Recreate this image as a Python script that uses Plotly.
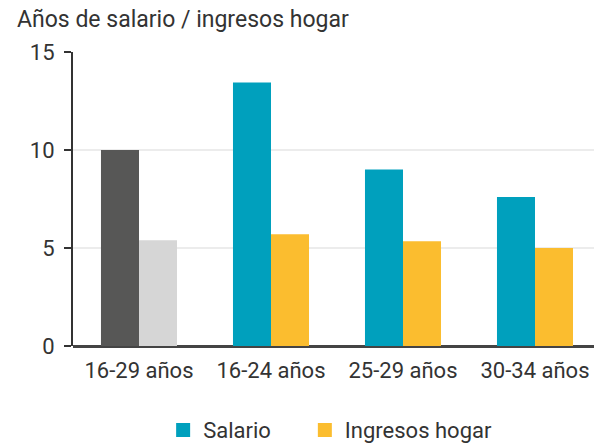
import plotly.graph_objects as go

categories = ["16-29 años", "16-24 años", "25-29 años", "30-34 años"]
salario = [10.0, 13.45, 9.0, 7.6]
ingresos = [5.4, 5.7, 5.35, 5.0]
salario_colors = ["#575756", "#00a0bd", "#00a0bd", "#00a0bd"]
ingresos_colors = ["#d6d6d6", "#fbbd2f", "#fbbd2f", "#fbbd2f"]
legend_names = ["Salario", "Ingresos hogar"]
legend_colors = ["#00a0bd", "#fbbd2f"]
y_ticks = [0, 5, 10, 15]

FONT = "Roboto"

fig = go.Figure()
fig.add_trace(go.Bar(x=categories, y=salario, name="Salario", showlegend=False,
                     marker=dict(color=salario_colors, line=dict(width=0))))
fig.add_trace(go.Bar(x=categories, y=ingresos, name="Ingresos hogar", showlegend=False,
                     marker=dict(color=ingresos_colors, line=dict(width=0))))
for i, (n, c) in enumerate(zip(legend_names, legend_colors)):
    fig.add_trace(go.Scatter(x=[None], y=[None], mode="markers", name=n,
                             legend="legend" if i == 0 else "legend2",
                             marker=dict(symbol="square", size=14, color=c)))

leg_common = dict(orientation="h", xanchor="left", y=-0.286, yanchor="middle",
                  font=dict(size=22, color="#333333"), bgcolor="rgba(0,0,0,0)")
fig.update_layout(
    width=594, height=445,
    margin=dict(l=73, r=0, t=52, b=99, autoexpand=False),
    paper_bgcolor="white", plot_bgcolor="white",
    barmode="group", bargap=0.424, bargroupgap=0,
    font=dict(family=FONT, size=22, color="#333333"),
    showlegend=True,
    legend=dict(x=0.173, **leg_common),
    legend2=dict(x=0.445, **leg_common),
    annotations=[dict(text="Años de salario / ingresos hogar", xref="paper", yref="paper",
                      x=-0.112, y=1.0, xanchor="left", yanchor="bottom", yshift=17,
                      showarrow=False, font=dict(size=23, color="#333333"))],
)
fig.update_xaxes(range=[-0.5, 3.447], showline=False, ticks="", showgrid=False, automargin=False,
                 tickfont=dict(size=22, color="#333333"), zeroline=False, ticklabelstandoff=9)
fig.update_yaxes(range=[0, 15], tickvals=y_ticks, showline=True, linecolor="#333333", linewidth=2,
                 ticks="outside", ticklen=7, tickwidth=2, tickcolor="#333333", automargin=False,
                 showgrid=True, gridcolor="#ececec", gridwidth=2,
                 zeroline=True, zerolinecolor="#444444", zerolinewidth=3,
                 tickfont=dict(size=22, color="#333333"), ticklabelstandoff=5)
fig.write_html("out.html", config={"displayModeBar": False},
               post_script="document.body.style.margin='0';document.body.style.overflow='hidden';")
